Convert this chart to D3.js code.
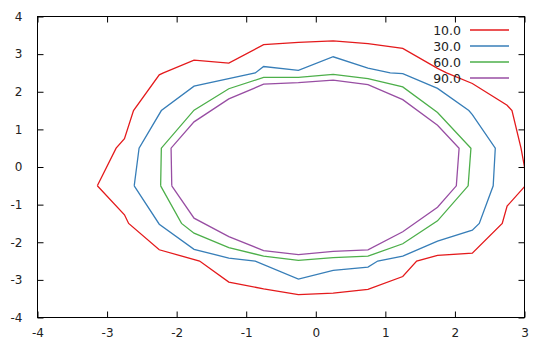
<!DOCTYPE html>
<html>
<head>
<meta charset="utf-8">
<script src="https://cdn.jsdelivr.net/npm/d3@7"></script>
<style>
  html, body { margin: 0; padding: 0; background: #fff; }
  svg { display: block; }
  text { font-family: "DejaVu Sans", sans-serif; fill: #222; }
</style>
</head>
<body>
<svg id="chart" width="550" height="350"></svg>
<script>
// Contour levels and their colours
const levels = ["10.0", "30.0", "60.0", "90.0"];
const colors = ["#e41a1c", "#377eb8", "#4daf4a", "#984ea3"];

// Contour paths, one closed ring of [x, y] per level
const contour10 = [
  [-3.14, -0.5], [-2.87, 0.5], [-2.75, 0.75], [-2.62, 1.5], [-2.25, 2.45], [-2.19, 2.5],
  [-1.75, 2.84], [-1.25, 2.76], [-0.75, 3.25], [-0.25, 3.31], [0.25, 3.35], [0.75, 3.28],
  [1.25, 3.15], [1.75, 2.62], [1.88, 2.5], [2.25, 2.22], [2.75, 1.64], [2.82, 1.5],
  [2.95, 0.5], [3.0, 0.0], [3.01, -0.5], [2.75, -1.04], [2.68, -1.5], [2.25, -2.29],
  [1.75, -2.35], [1.45, -2.5], [1.25, -2.91], [0.75, -3.25], [0.25, -3.35], [-0.25, -3.39],
  [-0.75, -3.24], [-1.25, -3.06], [-1.67, -2.5], [-2.25, -2.2], [-2.69, -1.5], [-2.75, -1.27],
  [-3.14, -0.5]
];
const contour30 = [
  [-2.61, -0.5], [-2.54, 0.5], [-2.22, 1.5], [-1.75, 2.15], [-0.87, 2.5], [-0.75, 2.67],
  [-0.25, 2.57], [0.25, 2.93], [0.75, 2.63], [1.07, 2.5], [1.25, 2.48], [1.75, 2.09],
  [2.2, 1.5], [2.25, 1.39], [2.58, 0.5], [2.55, -0.5], [2.35, -1.5], [2.25, -1.68],
  [1.75, -1.97], [1.25, -2.37], [0.89, -2.5], [0.75, -2.66], [0.25, -2.75], [-0.25, -2.98],
  [-0.87, -2.5], [-1.25, -2.42], [-1.75, -2.19], [-2.25, -1.52], [-2.61, -0.5]
];
const contour60 = [
  [-2.23, -0.5], [-2.22, 0.5], [-1.75, 1.51], [-1.25, 2.08], [-0.75, 2.38], [-0.25, 2.38],
  [0.25, 2.46], [0.75, 2.35], [1.25, 2.13], [1.75, 1.45], [2.23, 0.5], [2.19, -0.5],
  [1.75, -1.43], [1.25, -2.04], [0.75, -2.37], [0.25, -2.41], [-0.25, -2.48], [-0.75, -2.37],
  [-1.25, -2.14], [-1.75, -1.76], [-1.93, -1.5], [-2.23, -0.5]
];
const contour90 = [
  [-2.07, -0.5], [-2.08, 0.5], [-1.75, 1.2], [-1.25, 1.81], [-0.75, 2.2], [-0.25, 2.24],
  [0.25, 2.31], [0.75, 2.19], [1.25, 1.79], [1.75, 1.11], [2.06, 0.5], [2.02, -0.5],
  [1.75, -1.07], [1.25, -1.72], [0.75, -2.2], [0.25, -2.24], [-0.25, -2.33], [-0.75, -2.22],
  [-1.25, -1.85], [-1.75, -1.36], [-2.07, -0.5]
];
const contours = [contour10, contour30, contour60, contour90];

// Axis ticks
const xTicks = [-4, -3, -2, -1, 0, 1, 2, 3];
const yTicks = [-4, -3, -2, -1, 0, 1, 2, 3, 4];

const svg = d3.select("#chart");
const plotLeft = 37.5, plotRight = 524.5, plotTop = 16.5, plotBottom = 317.5;
const x = d3.scaleLinear().domain([-4, 3]).range([plotLeft, plotRight]);
const y = d3.scaleLinear().domain([-4, 4]).range([plotBottom, plotTop]);
const tickLen = 6;
const fmt = d => String(d);

svg.append("defs").append("clipPath").attr("id", "plot-clip")
  .append("rect").attr("x", plotLeft).attr("y", plotTop)
  .attr("width", plotRight - plotLeft).attr("height", plotBottom - plotTop);

// Axes with inward ticks on all four sides
const axisBottom = d3.axisBottom(x).tickValues(xTicks).tickSize(-tickLen).tickPadding(11).tickFormat(fmt);
const axisTop = d3.axisTop(x).tickValues(xTicks).tickSize(-tickLen).tickFormat("");
const axisLeft = d3.axisLeft(y).tickValues(yTicks).tickSize(-tickLen).tickPadding(15).tickFormat(fmt);
const axisRight = d3.axisRight(y).tickValues(yTicks).tickSize(-tickLen).tickFormat("");

function styleAxis(g) {
  g.select(".domain").remove();
  g.selectAll(".tick line").attr("stroke", "#000").attr("stroke-width", 1);
  g.selectAll(".tick text").attr("font-family", "DejaVu Sans, sans-serif")
    .attr("font-size", 12).attr("fill", "#222");
}
svg.append("g").attr("transform", `translate(0,${plotBottom})`).call(axisBottom).call(styleAxis);
svg.append("g").attr("transform", `translate(0,${plotTop})`).call(axisTop).call(styleAxis);
svg.append("g").attr("transform", `translate(${plotLeft},0)`).call(axisLeft).call(styleAxis);
svg.append("g").attr("transform", `translate(${plotRight},0)`).call(axisRight).call(styleAxis);

// Contour lines
const line = d3.line().x(d => x(d[0])).y(d => y(d[1]));
svg.append("g").attr("clip-path", "url(#plot-clip)")
  .selectAll("path").data(contours).join("path")
  .attr("d", line)
  .attr("fill", "none")
  .attr("stroke", (d, i) => colors[i])
  .attr("stroke-width", 1.3)
  .attr("stroke-linejoin", "miter");

// Frame
svg.append("rect").attr("x", plotLeft).attr("y", plotTop)
  .attr("width", plotRight - plotLeft).attr("height", plotBottom - plotTop)
  .attr("fill", "none").attr("stroke", "#000").attr("stroke-width", 1);

// Legend
const legend = svg.append("g");
levels.forEach((lv, i) => {
  const ly = 30 + i * 16;
  legend.append("text").attr("x", 461).attr("y", ly).attr("dy", "0.36em")
    .attr("text-anchor", "end").attr("font-size", 12.5).text(lv);
  legend.append("line").attr("x1", 470).attr("x2", 509).attr("y1", ly).attr("y2", ly)
    .attr("stroke", colors[i]).attr("stroke-width", 1.3);
});
</script>
</body>
</html>
